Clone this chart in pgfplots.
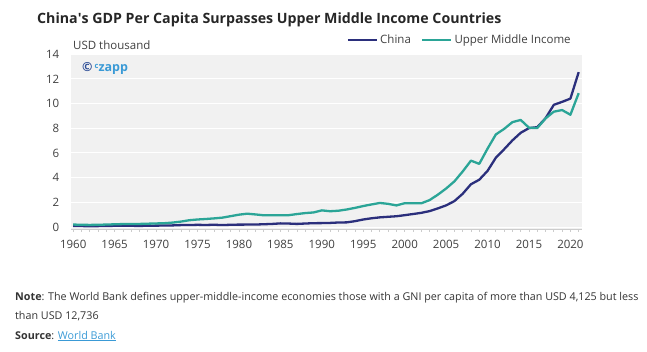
\documentclass[border=0pt]{standalone}
\usepackage{pgfplots}
\pgfplotsset{compat=1.18}
\usepackage{fontspec}
\setmainfont{Open Sans}
\definecolor{china}{HTML}{2B2F7C}
\definecolor{umi}{HTML}{2BA597}
\definecolor{bgc}{HTML}{F1F1F1}
\definecolor{txt}{HTML}{404040}
\definecolor{czb}{HTML}{3A9AD6}
\begin{document}
\begin{tikzpicture}[x=1pt,y=1pt]
\path[use as bounding box] (0,0) rectangle (647,352);
\begin{axis}[
  at={(70.7pt,123pt)}, anchor=south west,
  scale only axis, width=511.3pt, height=174.7pt,
  xmin=1959.7, xmax=2021.4, ymin=-0.16, ymax=14,
  axis background/.style={fill=bgc},
  separate axis lines,
  axis x line*=bottom, axis y line*=left,
  x axis line style={draw=gray!40, line width=0.8pt},
  y axis line style={draw=none},
  ytick={0,2,...,14},
  xtick={1960,1965,...,2020},
  minor xtick={1960,...,2021},
  xtick align=outside,
  major tick length=3pt, minor tick length=3pt,
  xtick style={draw=gray!40, line width=0.6pt},
  minor x tick style={draw=gray!40, line width=0.6pt},
  ytick style={draw=none},
  ymajorgrids, grid style={white, line width=1pt},
  tick label style={font=\fontsize{11.5}{13}\selectfont, text=txt},
  /pgf/number format/assume math mode=true,
  xticklabel style={/pgf/number format/1000 sep={}, yshift=-5pt},
  yticklabel style={xshift=-8pt},
  legend columns=2,
  legend style={draw=none, fill=none, at={(axis description cs:0.988,1.082)}, anchor=east,
    font=\fontsize{11.5}{13}\selectfont, text=txt,
    /tikz/every even column/.append style={column sep=8pt}},
  legend image code/.code={\draw[#1, line width=2.6pt] (0pt,0pt) -- (29pt,0pt);},
  every axis plot/.append style={line width=2.3pt, line join=round},
]
\addplot[china, no marks] coordinates {
(1960,0.09) (1961,0.076) (1962,0.07) (1963,0.074) (1964,0.085) (1965,0.098) (1966,0.104) (1967,0.097) (1968,0.091) (1969,0.10)
(1970,0.113) (1971,0.119) (1972,0.132) (1973,0.157) (1974,0.16) (1975,0.178) (1976,0.165) (1977,0.185) (1978,0.156) (1979,0.183)
(1980,0.195) (1981,0.197) (1982,0.203) (1983,0.225) (1984,0.25) (1985,0.294) (1986,0.281) (1987,0.252) (1988,0.284) (1989,0.311)
(1990,0.318) (1991,0.333) (1992,0.366) (1993,0.377) (1994,0.473) (1995,0.61) (1996,0.709) (1997,0.782) (1998,0.829) (1999,0.873)
(2000,0.959) (2001,1.053) (2002,1.149) (2003,1.289) (2004,1.509) (2005,1.753) (2006,2.099) (2007,2.694) (2008,3.468) (2009,3.832)
(2010,4.55) (2011,5.614) (2012,6.301) (2013,7.02) (2014,7.636) (2015,8.016) (2016,8.094) (2017,8.817) (2018,9.905) (2019,10.144)
(2020,10.409) (2021,12.556)
};
\addlegendentry{China}
\addplot[umi, no marks] coordinates {
(1960,0.20) (1961,0.18) (1962,0.17) (1963,0.18) (1964,0.20) (1965,0.22) (1966,0.24) (1967,0.24) (1968,0.25) (1969,0.27)
(1970,0.29) (1971,0.31) (1972,0.36) (1973,0.44) (1974,0.55) (1975,0.61) (1976,0.65) (1977,0.70) (1978,0.76) (1979,0.88)
(1980,1.00) (1981,1.08) (1982,1.02) (1983,0.95) (1984,0.95) (1985,0.95) (1986,0.96) (1987,1.05) (1988,1.13) (1989,1.18)
(1990,1.35) (1991,1.28) (1992,1.32) (1993,1.42) (1994,1.55) (1995,1.70) (1996,1.83) (1997,1.95) (1998,1.88) (1999,1.75)
(2000,1.93) (2001,1.93) (2002,1.92) (2003,2.18) (2004,2.62) (2005,3.12) (2006,3.70) (2007,4.50) (2008,5.38) (2009,5.12)
(2010,6.35) (2011,7.50) (2012,7.95) (2013,8.50) (2014,8.68) (2015,8.05) (2016,8.02) (2017,8.80) (2018,9.35) (2019,9.48)
(2020,9.10) (2021,10.85)
};
\addlegendentry{Upper Middle Income}
\end{axis}
\node[anchor=west, inner sep=0pt, font=\fontsize{14.2}{16}\selectfont\bfseries, text=black!85] at (37,332) {China\textquotesingle s GDP Per Capita Surpasses Upper Middle Income Countries};
\node[anchor=west, inner sep=0pt, font=\fontsize{11.5}{13}\selectfont, text=txt] at (73,307) {USD thousand};
\node[anchor=west, inner sep=0pt, font=\fontsize{12.5}{14}\selectfont\bfseries] at (82,284) {\textcolor{china!70!czb}{\textcopyright}\,\textcolor{czb}{\raisebox{2.5pt}{\fontsize{7.5}{8}\selectfont c}zapp}};
\node[anchor=west, inner sep=0pt, font=\fontsize{10.75}{12}\selectfont, text=black!80] at (15,54) {\textbf{Note}: The World Bank defines upper-middle-income economies those with a GNI per capita of more than USD 4,125 but less};
\node[anchor=west, inner sep=0pt, font=\fontsize{10.75}{12}\selectfont, text=black!80] at (15,36) {than USD 12,736};
\node[anchor=west, inner sep=0pt, font=\fontsize{10.75}{12}\selectfont, text=black!80] at (15,16) {\textbf{Source}: \textcolor{czb}{\underline{World Bank}}};
\end{tikzpicture}
\end{document}
